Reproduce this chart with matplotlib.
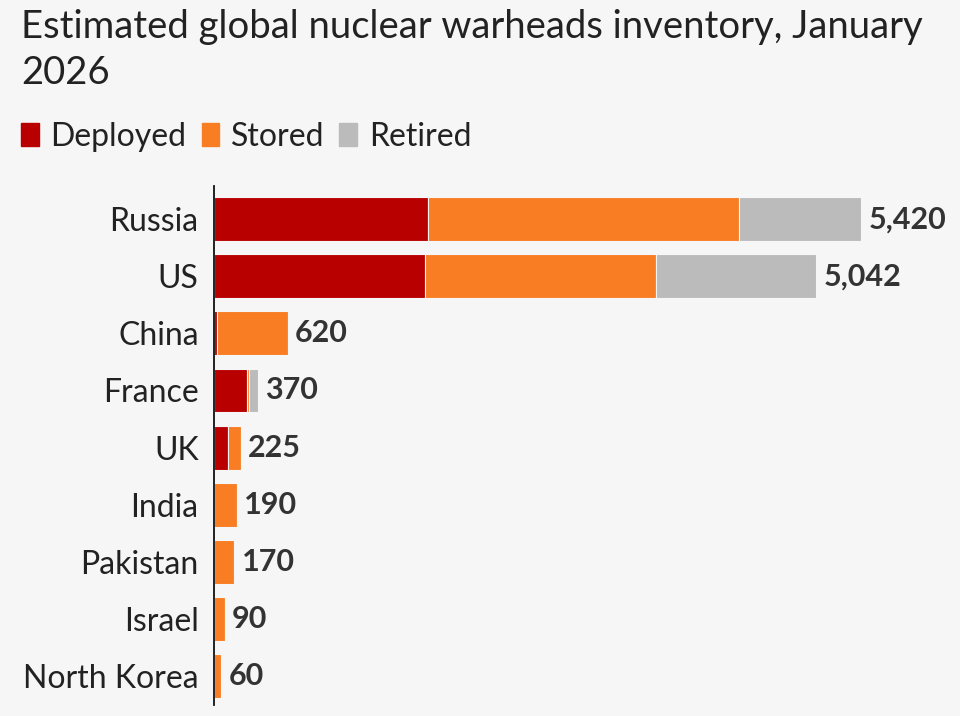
import matplotlib
matplotlib.use("Agg")
import matplotlib.pyplot as plt
from matplotlib.patches import Patch

# ---- data -------------------------------------------------------------------
countries = ["Russia", "US", "China", "France", "UK", "India", "Pakistan",
             "Israel", "North Korea"]
deployed = [1793, 1770, 24, 280, 120, 0, 0, 0, 0]
stored = [2605, 1930, 596, 10, 105, 190, 170, 90, 60]
retired = [1022, 1342, 0, 80, 0, 0, 0, 0, 0]
totals = [5420, 5042, 620, 370, 225, 190, 170, 90, 60]

# ---- palette ----------------------------------------------------------------
RED = "#b80000"
ORANGE = "#f87d23"
GREY = "#bbbbbb"
BG = "#f6f6f6"
INK = "#222222"
VAL = "#333333"

plt.rcParams["font.family"] = ["Lato", "DejaVu Sans"]

fig = plt.figure(figsize=(9.6, 7.16), dpi=100)
fig.patch.set_facecolor(BG)
ax = fig.add_axes([0.2229, 0.0154, 0.767, 0.7246])
ax.set_facecolor(BG)

y = list(range(len(countries)))
h = 0.77
left2 = [d + s for d, s in zip(deployed, stored)]
ax.barh(y, deployed, height=h, color=RED, edgecolor=BG, linewidth=0.8)
ax.barh(y, stored, left=deployed, height=h, color=ORANGE, edgecolor=BG,
        linewidth=0.8)
ax.barh(y, retired, left=left2, height=h, color=GREY, edgecolor=BG,
        linewidth=0.8)

for yi, t in zip(y, totals):
    ax.text(t + 60, yi, f"{t:,}", va="center", ha="left", fontsize=22,
            fontweight="bold", color=VAL)

ax.set_ylim(len(countries) - 1 + 0.51, -0.58)
ax.set_xlim(0, 6165)
ax.set_yticks(y)
ax.set_yticklabels(countries, fontsize=23, color=INK)
ax.tick_params(axis="y", length=0, pad=11)
ax.set_xticks([])
for s in ("top", "right", "bottom"):
    ax.spines[s].set_visible(False)
ax.spines["left"].set_color("#111111")
ax.spines["left"].set_linewidth(1.3)

fig.text(0.022, 0.987, "Estimated global nuclear warheads inventory, January\n2026",
         ha="left", va="top", fontsize=27.5, color=INK, linespacing=1.33)

handles = [Patch(color=RED, label="Deployed"),
           Patch(color=ORANGE, label="Stored"),
           Patch(color=GREY, label="Retired")]
fig.legend(handles=handles, loc="upper left", bbox_to_anchor=(0.022, 0.830),
           ncol=3, frameon=False, fontsize=23, handlelength=0.55,
           handleheight=0.75, handletextpad=0.37, columnspacing=0.47,
           borderpad=0, borderaxespad=0, labelcolor=INK)

fig.savefig("out.png", dpi=100, facecolor=BG)
